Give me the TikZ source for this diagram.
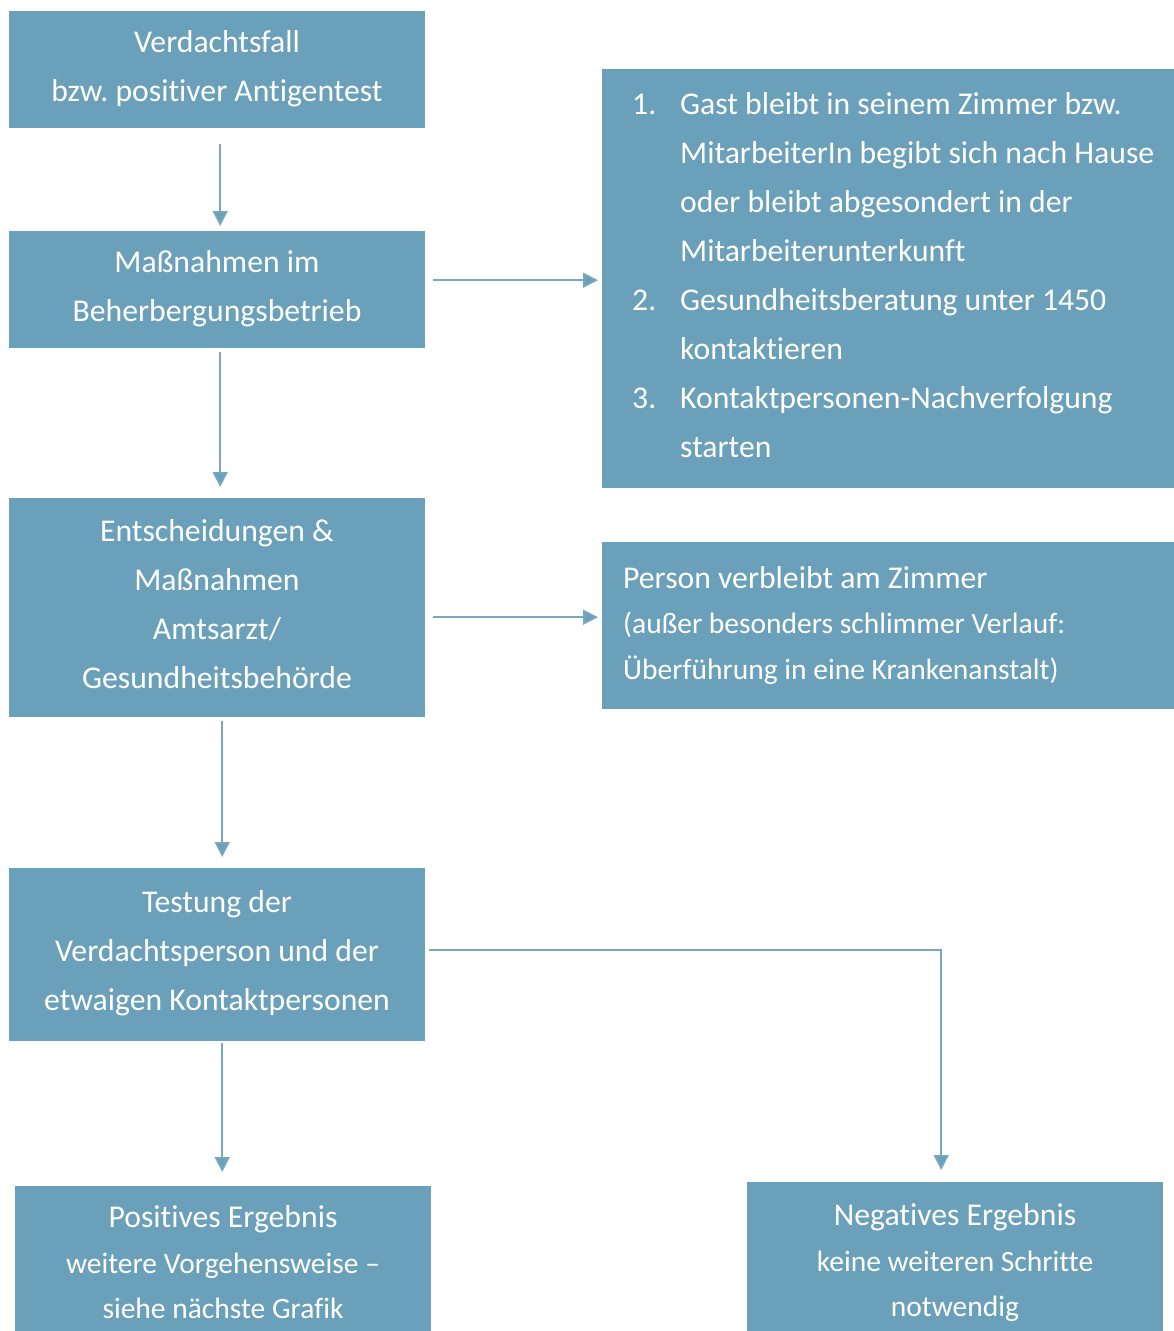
\documentclass[tikz,border=0pt]{standalone}
\usepackage{fontspec}
\setmainfont{Carlito}[Ligatures=NoCommon]
\usetikzlibrary{arrows.meta,calc}
\definecolor{boxblue}{HTML}{6BA0BA}
\definecolor{lineblue}{HTML}{78A8C0}
\frenchspacing
\begin{document}
\begin{tikzpicture}[x=1pt,y=-1pt,
  box/.style={fill=boxblue, draw=none, inner sep=0pt, anchor=north west},
  txt/.style={text=white, inner sep=0pt, align=center, font=\fontsize{31.7}{49}\selectfont,
    execute at begin node=\strut, execute at end node=\strut},
  smalltxt/.style={text=white, inner sep=0pt, align=center, font=\fontsize{29.5}{45.5}\selectfont,
    execute at begin node=\strut, execute at end node=\strut},
  arr/.style={draw=lineblue, line width=1.6pt, -{Triangle[length=15pt,width=15pt,fill=boxblue]}}]
\useasboundingbox (0,0) rectangle (1174,1331);
\clip (0,0) rectangle (1174,1331);

% boxes
\node[box, minimum width=416pt, minimum height=117pt] (b1) at (9,11) {};
\node[box, minimum width=416pt, minimum height=117pt] (b2) at (9,231) {};
\node[box, minimum width=600pt, minimum height=419pt] (list) at (602,69) {};
\node[box, minimum width=416pt, minimum height=219pt] (b3) at (9,498) {};
\node[box, minimum width=600pt, minimum height=167pt] (person) at (602,542) {};
\node[box, minimum width=416pt, minimum height=173pt] (b4) at (9,868) {};
\node[box, minimum width=416pt, minimum height=160pt] (pos) at (15,1186) {};
\node[box, minimum width=416pt, minimum height=160pt] (neg) at (747,1182) {};

% texts
\node[txt] (t1) at (217,73.5) {Verdachtsfall\\bzw. positiver Antigentest};
\node[txt] (t2) at (217,293.5) {Maßnahmen im\\Beherbergungsbetrieb};
\node[txt, align=left, anchor=west] (tlist) at (632,282) {%
\makebox[48pt][l]{1.}Gast bleibt in seinem Zimmer bzw.\\
\hspace*{48pt}MitarbeiterIn begibt sich nach Hause\\
\hspace*{48pt}oder bleibt abgesondert in der\\
\hspace*{48pt}Mitarbeiterunterkunft\\
\makebox[48pt][l]{2.}Gesundheitsberatung unter 1450\\
\hspace*{48pt}kontaktieren\\
\makebox[48pt][l]{3.}Kontaktpersonen-Nachverfolgung\\
\hspace*{48pt}starten};
\node[txt] (t3) at (217,611.5) {Entscheidungen \&\\Maßnahmen\\Amtsarzt/\\Gesundheitsbehörde};
\node[smalltxt, align=left, anchor=west] (tperson) at (623,629.5) {%
{\fontsize{31.7}{45.5}\selectfont Person verbleibt am Zimmer}\\
(außer besonders schlimmer Verlauf:\\
Überführung in eine Krankenanstalt)};
\node[txt] (t4) at (217,958) {Testung der\\Verdachtsperson und der\\etwaigen Kontaktpersonen};
\node[smalltxt] (tpos) at (223,1269) {{\fontsize{31.7}{45.5}\selectfont Positives Ergebnis}\\weitere Vorgehensweise –\\siehe nächste Grafik};
\node[smalltxt] (tneg) at (955,1267) {{\fontsize{31.7}{45.5}\selectfont Negatives Ergebnis}\\keine weiteren Schritte\\notwendig};

% connectors
\draw[arr, shorten <=16pt, shorten >=5pt] ([xshift=3pt]b1.south) -- ([xshift=3pt]b2.north);
\draw[arr, shorten <=8pt, shorten >=4pt] ([yshift=9.5pt]b2.east) -- ([yshift=9.5pt]b2.east -| list.west);
\draw[arr, shorten <=4pt, shorten >=11pt] ([xshift=3pt]b2.south) -- ([xshift=3pt]b3.north);
\draw[arr, shorten <=8pt, shorten >=4pt] ([yshift=-9.5pt]b3.east) -- ([yshift=-9.5pt]b3.east -| person.west);
\draw[arr, shorten <=4pt, shorten >=11pt] ([xshift=5pt]b3.south) -- ([xshift=5pt]b4.north);
\draw[arr, shorten <=4pt, shorten >=12pt] ([yshift=4.5pt]b4.east) -| ([xshift=-14pt]neg.north);
\draw[arr, shorten <=2pt, shorten >=14pt] ([xshift=5pt]b4.south) -- ([xshift=-1pt]pos.north);
\end{tikzpicture}
\end{document}
